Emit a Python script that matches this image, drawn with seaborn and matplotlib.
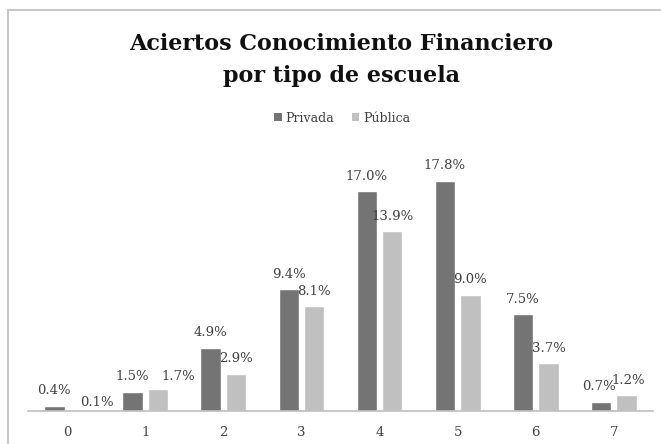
import matplotlib
matplotlib.use("Agg")
import matplotlib.pyplot as plt
from matplotlib.lines import Line2D
from matplotlib.patches import Patch
import seaborn as sns
import pandas as pd

categories = ["0", "1", "2", "3", "4", "5", "6", "7"]
privada = [0.4, 1.5, 4.9, 9.4, 17.0, 17.8, 7.5, 0.7]
publica = [0.1, 1.7, 2.9, 8.1, 13.9, 9.0, 3.7, 1.2]
series_names = ["Privada", "Pública"]
colors = ["#747474", "#C0C0C0"]
title = "Aciertos Conocimiento Financiero\npor tipo de escuela"

# label nudges (pixels: dx right, dy up) to mimic overlap avoidance
nudges = {("Pública", "0"): (17, -8), ("Pública", "1"): (20, -2),
          ("Privada", "7"): (-2, 0), ("Pública", "7"): (2, 0)}

df = pd.DataFrame({
    "cat": categories * 2,
    "val": privada + publica,
    "serie": [series_names[0]] * len(categories) + [series_names[1]] * len(categories),
})

sns.set_style("white")
plt.rcParams["font.family"] = ["DejaVu Serif"]

W, H = 661, 444
fig = plt.figure(figsize=(W / 100, H / 100), dpi=100)
ax = fig.add_axes([28 / W, (H - 411) / H, 625 / W, 258.6 / H])

sns.barplot(data=df, x="cat", y="val", hue="serie", order=categories,
            hue_order=series_names, palette=colors, width=0.65, gap=0.2,
            saturation=1, legend=False, ax=ax)

ax.set_ylim(0, 20)
ax.set_xlim(-0.5, len(categories) - 0.5)
ax.set_xlabel("")
ax.set_ylabel("")
ax.set_yticks([])
for s in ["top", "right", "left"]:
    ax.spines[s].set_visible(False)
ax.spines["bottom"].set_color("#BFBFBF")
ax.spines["bottom"].set_linewidth(1.2)
ax.tick_params(axis="x", length=0, pad=11, labelsize=9.5, colors="#404040")

for name, cont in zip(series_names, ax.containers):
    for cat, bar in zip(categories, cont):
        h = bar.get_height()
        dx, dy = nudges.get((name, cat), (0, 0))
        ax.annotate(f"{h:.1f}%", (bar.get_x() + bar.get_width() / 2, h),
                    xytext=(dx * 0.72, (15 + dy) * 0.72), textcoords="offset points",
                    ha="center", va="center", fontsize=9.5, color="#404040")

handles = [Patch(facecolor=c, edgecolor="none") for c in colors]
fig.legend(handles, series_names, loc="center", bbox_to_anchor=(342 / W, 1 - 118 / H),
           ncol=2, frameon=False, fontsize=9, handlelength=0.6, handleheight=0.6,
           handletextpad=0.3, columnspacing=1.4, labelcolor="#404040")

fig.text(341 / W, 1 - 60 / H, title, ha="center", va="center", fontsize=16,
         fontweight="bold", linespacing=1.58, color="#111111")

border = "#C8C8C8"
fig.add_artist(Line2D([8 / W, 8 / W], [0, 1 - 10 / H], transform=fig.transFigure,
                      color=border, lw=1.5))
fig.add_artist(Line2D([8 / W, 1], [1 - 10 / H, 1 - 10 / H], transform=fig.transFigure,
                      color=border, lw=1.5))

fig.savefig("out.png", dpi=100, facecolor="white")
